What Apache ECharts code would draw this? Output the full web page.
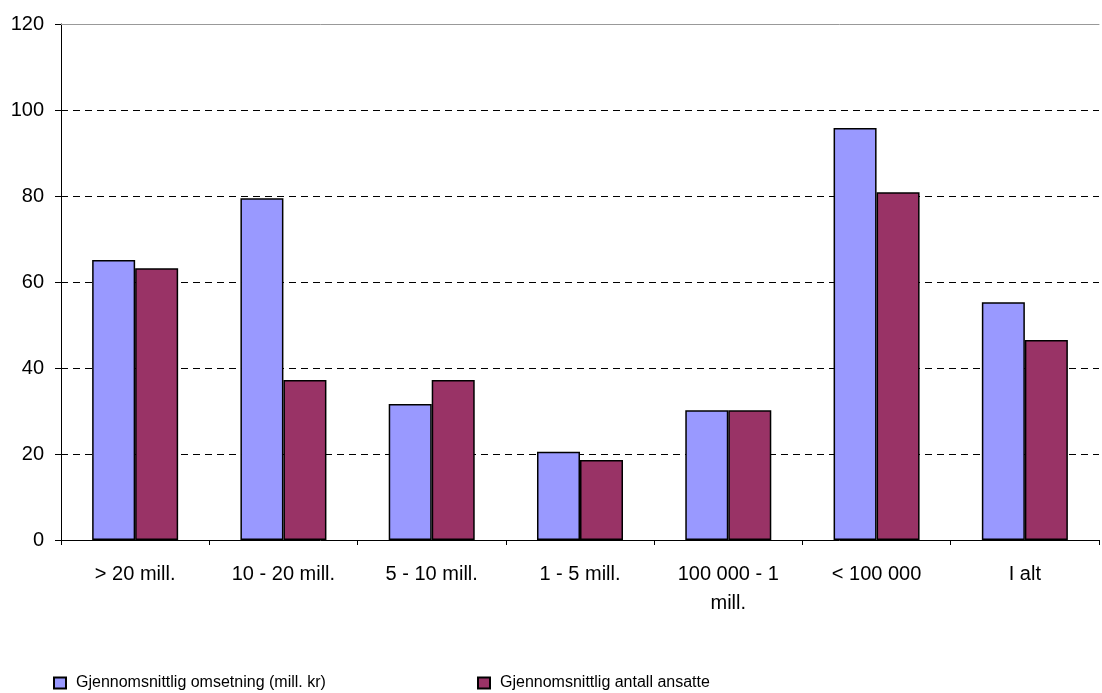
<!DOCTYPE html>
<html>
<head>
<meta charset="utf-8">
<script src="https://cdn.jsdelivr.net/npm/echarts@6/dist/echarts.min.js"></script>
<style>
  html, body { margin: 0; padding: 0; background: #fff; }
  #chart { width: 1102px; height: 693px; }
</style>
</head>
<body>
<div id="chart"></div>
<script>
// Size classes along the x axis
const categories = ['> 20 mill.', '10 - 20 mill.', '5 - 10 mill.', '1 - 5 mill.', '100 000 - 1\nmill.', '< 100 000', 'I alt'];
// Average turnover (mill. kr)
const omsetning = [65.1, 79.5, 31.6, 20.5, 30.2, 95.8, 55.3];
// Average number of employees
const ansatte = [63.2, 37.2, 37.2, 18.6, 30.2, 80.9, 46.5];
const seriesNames = ['Gjennomsnittlig omsetning (mill. kr)', 'Gjennomsnittlig antall ansatte'];

const FONT = '"Liberation Sans", Arial, sans-serif';
const chart = echarts.init(document.getElementById('chart'), null, { renderer: 'canvas' });

const legendText = { fontFamily: FONT, fontSize: 16, color: '#000', padding: [0, 0, 0, 5] };

chart.setOption({
  animation: false,
  backgroundColor: '#ffffff',
  textStyle: { fontFamily: FONT, color: '#000' },
  grid: { left: 61, right: 3, top: 24, bottom: 153, containLabel: false },
  legend: [
    {
      data: [seriesNames[0]],
      left: 53, top: 675,
      padding: 0,
      itemWidth: 12, itemHeight: 11,
      icon: 'rect',
      textStyle: legendText
    },
    {
      data: [seriesNames[1]],
      left: 477, top: 675,
      padding: 0,
      itemWidth: 12, itemHeight: 11,
      icon: 'rect',
      textStyle: legendText
    }
  ],
  xAxis: [
    {
      type: 'category',
      data: categories,
      axisLine: { lineStyle: { color: '#000', width: 1 } },
      axisTick: { show: true, length: 5, lineStyle: { color: '#000' } },
      axisLabel: { fontFamily: FONT, fontSize: 20, color: '#000', margin: 20, lineHeight: 29, interval: 0 }
    },
    {
      type: 'category',
      position: 'top',
      data: categories,
      axisLine: { show: true, lineStyle: { color: '#999', width: 1 } },
      axisTick: { show: false },
      axisLabel: { show: false }
    }
  ],
  yAxis: {
    type: 'value',
    min: 0, max: 120, interval: 20,
    axisLine: { show: true, lineStyle: { color: '#000', width: 1 } },
    axisTick: { show: true, length: 6, lineStyle: { color: '#000' } },
    axisLabel: { fontFamily: FONT, fontSize: 20, color: '#000', margin: 17 },
    splitLine: { show: true, lineStyle: { color: '#000', type: [7, 5], width: 1 } }
  },
  series: [
    {
      name: seriesNames[0],
      type: 'bar',
      data: omsetning,
      barGap: '0%',
      barCategoryGap: '42%',
      itemStyle: { color: '#9999FF', borderColor: '#000', borderWidth: 1.5 }
    },
    {
      name: seriesNames[1],
      type: 'bar',
      data: ansatte,
      barGap: '0%',
      barCategoryGap: '42%',
      itemStyle: { color: '#993366', borderColor: '#000', borderWidth: 1.5 }
    }
  ]
});
</script>
</body>
</html>
